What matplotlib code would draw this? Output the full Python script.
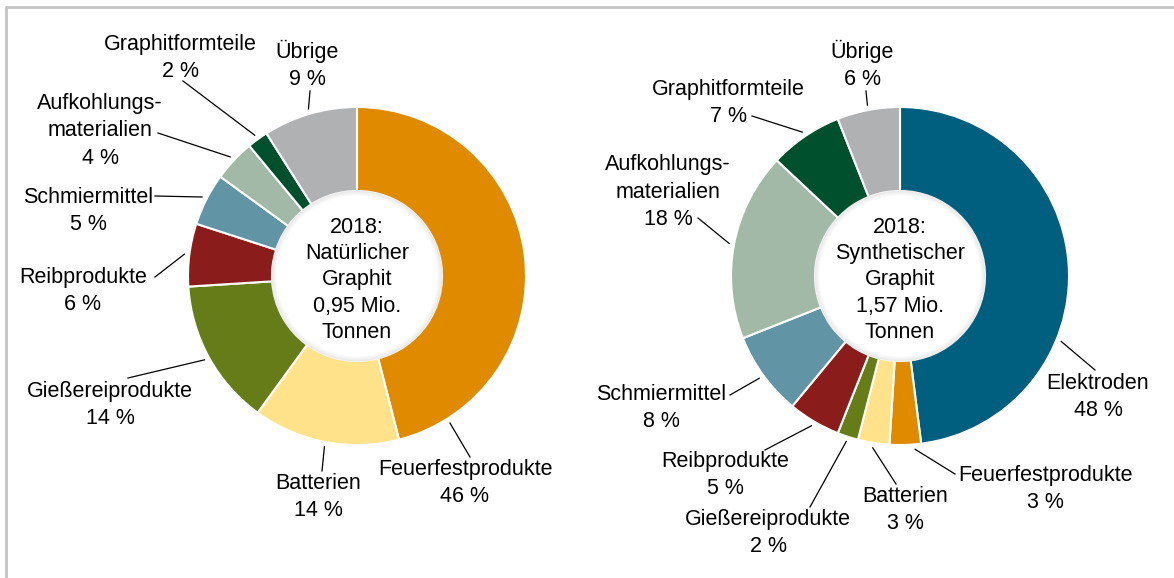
import numpy as np
import matplotlib
matplotlib.use("Agg")
import matplotlib.pyplot as plt
from matplotlib.patches import Circle

plt.rcParams['font.family'] = ['Liberation Sans', 'DejaVu Sans']

# Daten: Natürlicher Graphit 2018
nat_labels = ['Feuerfestprodukte', 'Batterien', 'Gießereiprodukte', 'Reibprodukte',
              'Schmiermittel', 'Aufkohlungs-\nmaterialien', 'Graphitformteile', 'Übrige']
nat_values = [46, 14, 14, 6, 5, 4, 2, 9]
nat_colors = ['#E08A00', '#FFE28A', '#667C19', '#8B1C1C',
              '#6195A6', '#A3B9A8', '#004F2D', '#B0B1B3']

# Daten: Synthetischer Graphit 2018
syn_labels = ['Elektroden', 'Feuerfestprodukte', 'Batterien', 'Gießereiprodukte', 'Reibprodukte',
              'Schmiermittel', 'Aufkohlungs-\nmaterialien', 'Graphitformteile', 'Übrige']
syn_values = [48, 3, 3, 2, 5, 8, 18, 7, 6]
syn_colors = ['#005F7F', '#E08A00', '#FFE28A', '#667C19', '#8B1C1C',
              '#6195A6', '#A3B9A8', '#004F2D', '#B0B1B3']

nat_title = '2018:\nNatürlicher\nGraphit\n0,95 Mio.\nTonnen'
syn_title = '2018:\nSynthetischer\nGraphit\n1,57 Mio.\nTonnen'

# Layout (Pixel): Textposition, Anfang der Hinweislinie, Winkel am Ring (None = Segmentmitte)
nat_text = [(465, 483), (318, 497), (110, 405), (83, 291), (88, 211), (100, 131), (180, 58), (307, 65)]
nat_line = [(470, 457), (322, 471), (128, 378), (155, 277), (155, 196), (158, 133), (183, 81), (310, 91)]
nat_ang = [57.7, None, None, None, None, None, None, None]
syn_text = [(1098, 397), (1045, 489), (905, 510), (768, 533), (725, 475), (661, 408), (668, 192), (728, 103), (862, 65)]
syn_line = [(1095, 370), (955, 474), (896, 484), (810, 507), (765, 450), (730, 395), (698, 218), (752, 116), (866, 91)]
syn_ang = [22.1, 85.0, None, None, None, None, None, None, None]

W, H = 1174, 578
R = 169
HOLE = 85

fig = plt.figure(figsize=(W / 100, H / 100), dpi=100)
ax = fig.add_axes([0, 0, 1, 1])


def donut(cx, cy, values, colors, labels, texts, lines, angs, title):
    ax.pie(values, colors=colors, center=(cx, cy), radius=R, startangle=-90,
           counterclock=True,
           wedgeprops=dict(width=R - HOLE, edgecolor='white', linewidth=1.5))
    # leichter Schatten im Loch
    for i in range(5):
        ax.add_patch(Circle((cx, cy), HOLE - i, fill=False, lw=1.2,
                            ec='#999999', alpha=0.13 * (1 - i / 5), zorder=3))
    ax.text(cx, cy + 4, title, ha='center', va='center', fontsize=15.5,
            linespacing=1.33, zorder=4)
    total = sum(values)
    cum = 0
    for v, lab, (tx, ty), (lx, ly), a in zip(values, labels, texts, lines, angs):
        mid = cum + v / 2
        cum += v
        if a is None:
            a = -90 + 360 * mid / total
        ang = np.deg2rad(a)
        px = cx + (R + 5) * np.cos(ang)
        py = cy + (R + 5) * np.sin(ang)
        ax.plot([lx, px], [ly, py], color='black', lw=0.9, zorder=2)
        ax.text(tx, ty, f'{lab}\n{v} %', ha='center', va='center',
                fontsize=15.5, linespacing=1.38)


donut(357, 276, nat_values, nat_colors, nat_labels, nat_text, nat_line, nat_ang, nat_title)
donut(900, 276, syn_values, syn_colors, syn_labels, syn_text, syn_line, syn_ang, syn_title)

# Rahmen oben und links
ax.plot([6, 6, W], [H, 6.5, 6.5], color='#C4C4C4', lw=2, zorder=5)

ax.set_xlim(0, W)
ax.set_ylim(H, 0)
ax.set_aspect('auto')
ax.axis('off')

fig.savefig('out.png', dpi=100)
